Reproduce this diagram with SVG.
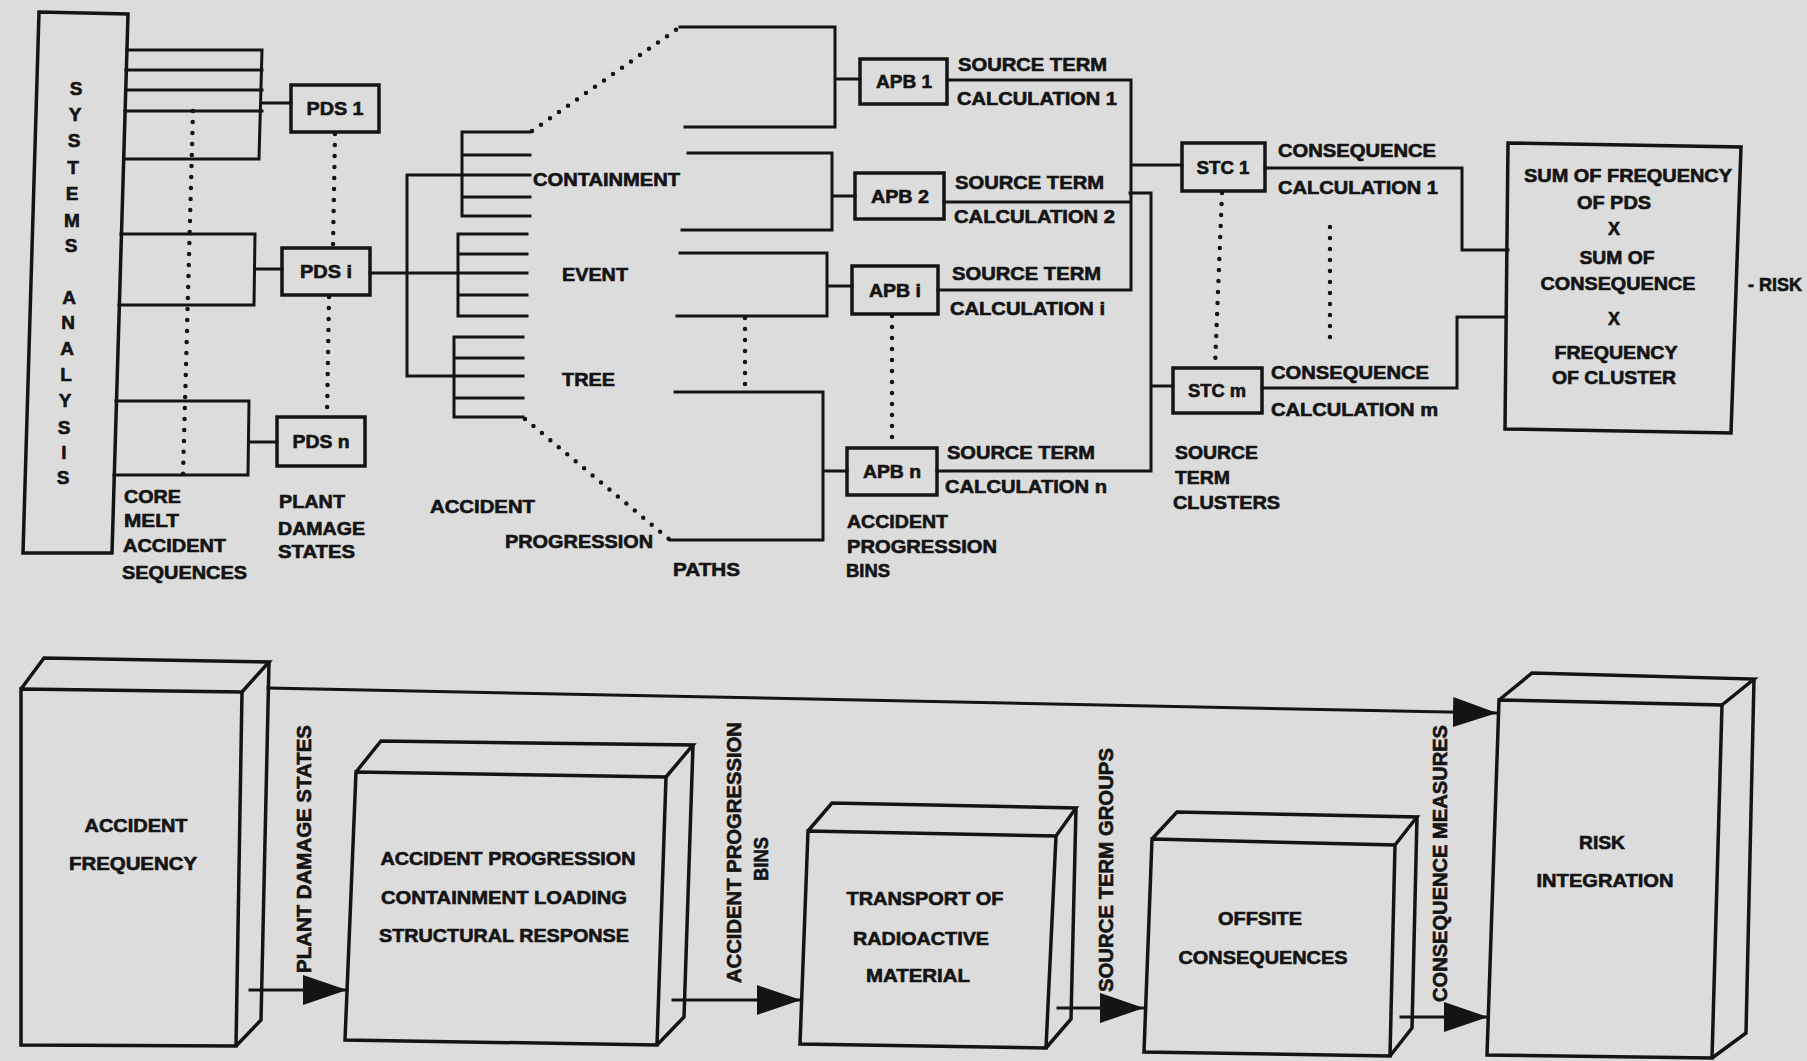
<svg xmlns="http://www.w3.org/2000/svg" width="1807" height="1061" viewBox="0 0 1807 1061">
<style>
.ln{stroke:#141414;stroke-width:3;fill:none;stroke-linecap:square}
.bx{stroke:#141414;stroke-width:3.5;fill:none;stroke-linejoin:miter}
.dot{stroke:#141414;stroke-width:4.5;fill:none;stroke-dasharray:0 11;stroke-linecap:round}
.t{font-family:"Liberation Sans",Arial,Helvetica,sans-serif;font-weight:bold;font-size:18px;fill:#141414;stroke:#141414;stroke-width:0.6}
.m{text-anchor:middle}
.r{font-size:20px}
.sa{font-size:19px}
</style>
<defs>
<marker id="ah" markerUnits="userSpaceOnUse" markerWidth="46" markerHeight="32" refX="44" refY="15" orient="auto">
<path d="M0,0 L44,15 L0,30 z" fill="#141414"/>
</marker>
</defs>
<rect width="1807" height="1061" fill="#dcdcdc"/>

<g id="connectors">
<path class="ln" d="M127,50H262M126,70H262M126,90H262M125,111H262M124,159H259M262,50L259,159M261,103H291"/>
<path class="ln" d="M121,234H255M119,305H254M255,234L254,305M255,269H282"/>
<path class="ln" d="M116,401H249M114,475H248M249,401L248,475M249,442H277"/>
<path class="dot" d="M193,111L183,475"/>
<path class="dot" d="M335,134L333,246M329,297L327,415"/>
<path class="ln" d="M370,273H458M407,175V376M407,175H462M407,376H454"/>
<path class="ln" d="M462,132V216M462,132H530M462,155H530M462,175H530M462,197H530M462,216H530"/>
<path class="ln" d="M458,234V316M458,234H527M458,254H527M458,273H527M458,295H527M458,316H527"/>
<path class="ln" d="M454,337V417M454,337H523M454,358H523M454,376H523M454,398H523M454,417H523"/>
<path class="dot" d="M532,131L680,27M525,419L670,540"/>
<path class="ln" d="M680,27H835V127H685M835,79H860"/>
<path class="ln" d="M688,153H832V230H682M832,196H855"/>
<path class="ln" d="M680,253H827V316H677M827,286H852"/>
<path class="ln" d="M675,392H823V540H670M823,471H847"/>
<path class="dot" d="M745,318V390"/>
<path class="dot" d="M892,316V446"/>
<path class="ln" d="M947,80H1131V290M944,202H1129M938,290H1131M1131,165H1182"/>
<path class="ln" d="M1130,193H1151V471H937M1151,386H1173"/>
<path class="dot" d="M1222,193L1215,366"/>
<path class="ln" d="M1265,168H1462V250H1508"/>
<path class="ln" d="M1262,388H1457V317H1506"/>
<path class="dot" d="M1330,227V338"/>
<path class="ln" d="M268,688L1497,713" marker-end="url(#ah)"/>
<path class="ln" d="M250,990H347" marker-end="url(#ah)"/>
<path class="ln" d="M673,1000H801" marker-end="url(#ah)"/>
<path class="ln" d="M1058,1008H1144" marker-end="url(#ah)"/>
<path class="ln" d="M1401,1017H1488" marker-end="url(#ah)"/>
</g>

<g id="systems-analysis">
<polygon class="bx" points="39,12 128,14 112,553 23,553"/>
<text class="t m sa" x="76" y="95">S</text>
<text class="t m sa" x="75" y="121">Y</text>
<text class="t m sa" x="74" y="147">S</text>
<text class="t m sa" x="73" y="174">T</text>
<text class="t m sa" x="72" y="200">E</text>
<text class="t m sa" x="72" y="227">M</text>
<text class="t m sa" x="71" y="252">S</text>
<text class="t m sa" x="69" y="304">A</text>
<text class="t m sa" x="68" y="329">N</text>
<text class="t m sa" x="67" y="355">A</text>
<text class="t m sa" x="66" y="381">L</text>
<text class="t m sa" x="65" y="407">Y</text>
<text class="t m sa" x="64" y="434">S</text>
<text class="t m sa" x="64" y="459">I</text>
<text class="t m sa" x="63" y="484">S</text>
</g>

<g id="pds1"><rect class="bx" x="291" y="85" width="88" height="47"/><text class="t m" x="335" y="115" textLength="57" lengthAdjust="spacingAndGlyphs">PDS 1</text></g>
<g id="pdsi"><rect class="bx" x="282" y="248" width="88" height="47"/><text class="t m" x="326" y="278" textLength="52" lengthAdjust="spacingAndGlyphs">PDS i</text></g>
<g id="pdsn"><rect class="bx" x="277" y="417" width="88" height="49"/><text class="t m" x="321" y="448" textLength="57" lengthAdjust="spacingAndGlyphs">PDS n</text></g>

<g id="apb1"><rect class="bx" x="860" y="59" width="87" height="45"/><text class="t m" x="904" y="88" textLength="56" lengthAdjust="spacingAndGlyphs">APB 1</text></g>
<g id="apb2"><rect class="bx" x="855" y="173" width="89" height="46"/><text class="t m" x="900" y="203" textLength="58" lengthAdjust="spacingAndGlyphs">APB 2</text></g>
<g id="apbi"><rect class="bx" x="852" y="266" width="86" height="48"/><text class="t m" x="895" y="297" textLength="52" lengthAdjust="spacingAndGlyphs">APB i</text></g>
<g id="apbn"><rect class="bx" x="847" y="448" width="90" height="47"/><text class="t m" x="892" y="478" textLength="58" lengthAdjust="spacingAndGlyphs">APB n</text></g>

<g id="stc1"><rect class="bx" x="1182" y="143" width="83" height="48"/><text class="t m" x="1223" y="174" textLength="53" lengthAdjust="spacingAndGlyphs">STC 1</text></g>
<g id="stcm"><rect class="bx" x="1173" y="368" width="89" height="45"/><text class="t m" x="1217" y="397" textLength="58" lengthAdjust="spacingAndGlyphs">STC m</text></g>

<g id="risk-sum">
<polygon class="bx" points="1508,143 1741,147 1731,433 1505,429"/>
<text class="t m" x="1628" y="182" textLength="208" lengthAdjust="spacingAndGlyphs">SUM OF FREQUENCY</text>
<text class="t m" x="1614" y="209" textLength="74" lengthAdjust="spacingAndGlyphs">OF PDS</text>
<text class="t m" x="1614" y="235">X</text>
<text class="t m" x="1617" y="264" textLength="75" lengthAdjust="spacingAndGlyphs">SUM OF</text>
<text class="t m" x="1618" y="290" textLength="155" lengthAdjust="spacingAndGlyphs">CONSEQUENCE</text>
<text class="t m" x="1614" y="325">X</text>
<text class="t m" x="1616" y="359" textLength="123" lengthAdjust="spacingAndGlyphs">FREQUENCY</text>
<text class="t m" x="1614" y="384" textLength="124" lengthAdjust="spacingAndGlyphs">OF CLUSTER</text>
</g>

<g id="labels-top">
<text class="t" x="124" y="503" textLength="57" lengthAdjust="spacingAndGlyphs">CORE</text>
<text class="t" x="124" y="527" textLength="55" lengthAdjust="spacingAndGlyphs">MELT</text>
<text class="t" x="123" y="552" textLength="103" lengthAdjust="spacingAndGlyphs">ACCIDENT</text>
<text class="t" x="122" y="579" textLength="125" lengthAdjust="spacingAndGlyphs">SEQUENCES</text>
<text class="t" x="279" y="508" textLength="66" lengthAdjust="spacingAndGlyphs">PLANT</text>
<text class="t" x="278" y="535" textLength="87" lengthAdjust="spacingAndGlyphs">DAMAGE</text>
<text class="t" x="278" y="558" textLength="77" lengthAdjust="spacingAndGlyphs">STATES</text>
<text class="t" x="533" y="186" textLength="147" lengthAdjust="spacingAndGlyphs">CONTAINMENT</text>
<text class="t" x="562" y="281" textLength="66" lengthAdjust="spacingAndGlyphs">EVENT</text>
<text class="t" x="562" y="386" textLength="53" lengthAdjust="spacingAndGlyphs">TREE</text>
<text class="t" x="430" y="513" textLength="105" lengthAdjust="spacingAndGlyphs">ACCIDENT</text>
<text class="t" x="505" y="548" textLength="148" lengthAdjust="spacingAndGlyphs">PROGRESSION</text>
<text class="t" x="673" y="576" textLength="67" lengthAdjust="spacingAndGlyphs">PATHS</text>
<text class="t" x="958" y="71" textLength="149" lengthAdjust="spacingAndGlyphs">SOURCE TERM</text>
<text class="t" x="957" y="105" textLength="160" lengthAdjust="spacingAndGlyphs">CALCULATION 1</text>
<text class="t" x="955" y="189" textLength="149" lengthAdjust="spacingAndGlyphs">SOURCE TERM</text>
<text class="t" x="954" y="223" textLength="161" lengthAdjust="spacingAndGlyphs">CALCULATION 2</text>
<text class="t" x="952" y="280" textLength="149" lengthAdjust="spacingAndGlyphs">SOURCE TERM</text>
<text class="t" x="950" y="315" textLength="155" lengthAdjust="spacingAndGlyphs">CALCULATION i</text>
<text class="t" x="947" y="459" textLength="148" lengthAdjust="spacingAndGlyphs">SOURCE TERM</text>
<text class="t" x="945" y="493" textLength="162" lengthAdjust="spacingAndGlyphs">CALCULATION n</text>
<text class="t" x="847" y="528" textLength="101" lengthAdjust="spacingAndGlyphs">ACCIDENT</text>
<text class="t" x="847" y="553" textLength="150" lengthAdjust="spacingAndGlyphs">PROGRESSION</text>
<text class="t" x="846" y="577" textLength="44" lengthAdjust="spacingAndGlyphs">BINS</text>
<text class="t" x="1175" y="459" textLength="83" lengthAdjust="spacingAndGlyphs">SOURCE</text>
<text class="t" x="1175" y="484" textLength="55" lengthAdjust="spacingAndGlyphs">TERM</text>
<text class="t" x="1173" y="509" textLength="107" lengthAdjust="spacingAndGlyphs">CLUSTERS</text>
<text class="t" x="1278" y="157" textLength="158" lengthAdjust="spacingAndGlyphs">CONSEQUENCE</text>
<text class="t" x="1278" y="194" textLength="160" lengthAdjust="spacingAndGlyphs">CALCULATION 1</text>
<text class="t" x="1271" y="379" textLength="158" lengthAdjust="spacingAndGlyphs">CONSEQUENCE</text>
<text class="t" x="1271" y="416" textLength="167" lengthAdjust="spacingAndGlyphs">CALCULATION m</text>
<text class="t" x="1748" y="291" textLength="54" lengthAdjust="spacingAndGlyphs">- RISK</text>
</g>

<g id="accident-frequency">
<polygon class="bx" points="21,689 242,692 236,1046 21,1045"/>
<polyline class="bx" points="21,689 44,658 269,662 242,692"/>
<polyline class="bx" points="269,662 261,1020 236,1046"/>
<text class="t m" x="136" y="832" textLength="103" lengthAdjust="spacingAndGlyphs">ACCIDENT</text>
<text class="t m" x="133" y="870" textLength="128" lengthAdjust="spacingAndGlyphs">FREQUENCY</text>
</g>
<g id="accident-progression">
<polygon class="bx" points="356,772 666,777 657,1045 345,1040"/>
<polyline class="bx" points="356,772 381,741 693,745 666,777"/>
<polyline class="bx" points="693,745 684,1017 657,1045"/>
<text class="t m" x="508" y="865" textLength="255" lengthAdjust="spacingAndGlyphs">ACCIDENT PROGRESSION</text>
<text class="t m" x="504" y="904" textLength="246" lengthAdjust="spacingAndGlyphs">CONTAINMENT LOADING</text>
<text class="t m" x="504" y="942" textLength="250" lengthAdjust="spacingAndGlyphs">STRUCTURAL RESPONSE</text>
</g>
<g id="transport">
<polygon class="bx" points="808,831 1056,836 1046,1048 800,1044"/>
<polyline class="bx" points="808,831 832,803 1076,808 1056,836"/>
<polyline class="bx" points="1076,808 1071,1019 1046,1048"/>
<text class="t m" x="925" y="905" textLength="157" lengthAdjust="spacingAndGlyphs">TRANSPORT OF</text>
<text class="t m" x="921" y="945" textLength="136" lengthAdjust="spacingAndGlyphs">RADIOACTIVE</text>
<text class="t m" x="918" y="982" textLength="104" lengthAdjust="spacingAndGlyphs">MATERIAL</text>
</g>
<g id="offsite">
<polygon class="bx" points="1152,839 1395,845 1390,1056 1144,1052"/>
<polyline class="bx" points="1152,839 1177,812 1417,817 1395,845"/>
<polyline class="bx" points="1417,817 1412,1028 1390,1056"/>
<text class="t m" x="1260" y="925" textLength="84" lengthAdjust="spacingAndGlyphs">OFFSITE</text>
<text class="t m" x="1263" y="964" textLength="169" lengthAdjust="spacingAndGlyphs">CONSEQUENCES</text>
</g>
<g id="risk-integration">
<polygon class="bx" points="1499,700 1722,705 1712,1058 1487,1055"/>
<polyline class="bx" points="1499,700 1532,673 1754,679 1722,705"/>
<polyline class="bx" points="1754,679 1746,1033 1712,1058"/>
<text class="t m" x="1602" y="849" textLength="46" lengthAdjust="spacingAndGlyphs">RISK</text>
<text class="t m" x="1605" y="887" textLength="137" lengthAdjust="spacingAndGlyphs">INTEGRATION</text>
</g>

<g id="labels-bottom">
<text class="t r" transform="translate(311,973) rotate(-90)" textLength="248" lengthAdjust="spacingAndGlyphs">PLANT DAMAGE STATES</text>
<text class="t r" transform="translate(741,983) rotate(-90)" textLength="261" lengthAdjust="spacingAndGlyphs">ACCIDENT PROGRESSION</text>
<text class="t r m" transform="translate(768,859) rotate(-90)" textLength="44" lengthAdjust="spacingAndGlyphs">BINS</text>
<text class="t r" transform="translate(1113,992) rotate(-90)" textLength="244" lengthAdjust="spacingAndGlyphs">SOURCE TERM GROUPS</text>
<text class="t r" transform="translate(1447,1002) rotate(-90)" textLength="277" lengthAdjust="spacingAndGlyphs">CONSEQUENCE MEASURES</text>
</g>
</svg>
